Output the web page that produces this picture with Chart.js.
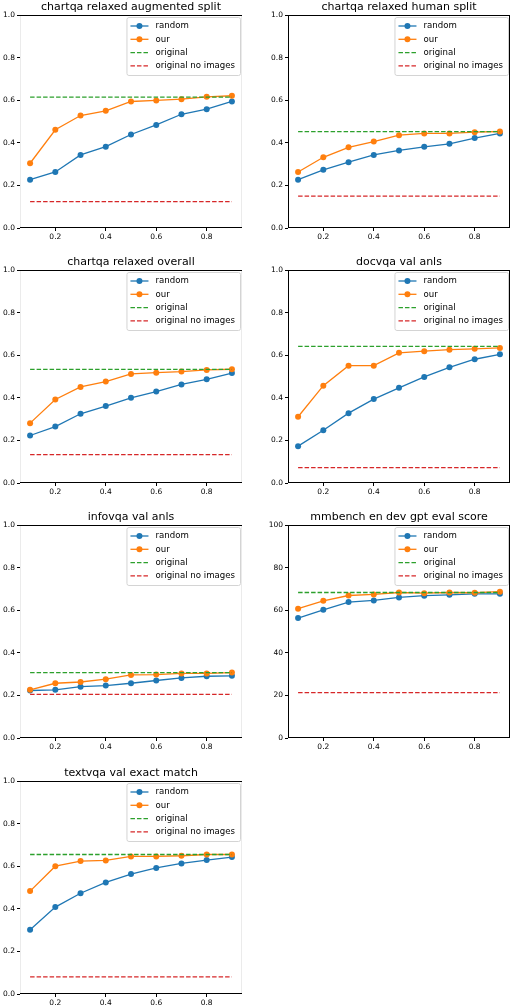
<!DOCTYPE html>
<html>
<head>
<meta charset="utf-8">
<script src="https://cdn.jsdelivr.net/npm/chart.js@4/dist/chart.umd.min.js"></script>
<style>
  html, body { margin: 0; padding: 0; background: #fff; }
  body { width: 512px; height: 1006px; position: relative; overflow: hidden; }
  .panel { position: absolute; width: 256px; height: 249px; }
</style>
</head>
<body>
<div id="figure"></div>
<script>
'use strict';

// x values (fraction of data kept)
let xs = [0.1, 0.2, 0.3, 0.4, 0.5, 0.6, 0.7, 0.8, 0.9];
let xTicks = [0.2, 0.4, 0.6, 0.8];

let titles = [
  'chartqa relaxed augmented split',
  'chartqa relaxed human split',
  'chartqa relaxed overall',
  'docvqa val anls',
  'infovqa val anls',
  'mmbench en dev gpt eval score',
  'textvqa val exact match'
];

let legendLabels = ['random', 'our', 'original', 'original no images'];

// series values, one row per subplot
let randomScores = [
  [0.227, 0.263, 0.343, 0.382, 0.439, 0.484, 0.534, 0.558, 0.594],
  [0.227, 0.273, 0.309, 0.343, 0.364, 0.381, 0.395, 0.422, 0.444],
  [0.223, 0.265, 0.325, 0.361, 0.400, 0.429, 0.463, 0.487, 0.516],
  [0.173, 0.248, 0.328, 0.394, 0.447, 0.498, 0.543, 0.581, 0.604],
  [0.223, 0.226, 0.241, 0.246, 0.257, 0.270, 0.282, 0.290, 0.292],
  [56.3, 60.2, 63.8, 64.6, 66.0, 66.8, 67.2, 67.7, 67.7],
  [0.302, 0.408, 0.473, 0.524, 0.563, 0.592, 0.613, 0.629, 0.643]
];

let ourScores = [
  [0.304, 0.461, 0.528, 0.550, 0.594, 0.599, 0.605, 0.616, 0.621],
  [0.263, 0.332, 0.379, 0.406, 0.436, 0.444, 0.444, 0.450, 0.453],
  [0.281, 0.392, 0.451, 0.476, 0.512, 0.518, 0.523, 0.531, 0.534],
  [0.311, 0.457, 0.551, 0.551, 0.611, 0.619, 0.626, 0.630, 0.634],
  [0.226, 0.257, 0.263, 0.276, 0.296, 0.298, 0.303, 0.303, 0.307],
  [60.7, 64.4, 66.9, 67.4, 68.3, 68.0, 68.3, 68.2, 68.7],
  [0.483, 0.600, 0.624, 0.627, 0.646, 0.646, 0.649, 0.655, 0.655]
];

let originalScores = [0.614, 0.452, 0.533, 0.641, 0.307, 68.3, 0.655];
let noImageScores = [0.124, 0.150, 0.133, 0.072, 0.205, 21.3, 0.080];

// y axis: top value of each subplot and its tick labels
let yMax = [1, 1, 1, 1, 1, 100, 1];
let yTickLabelsUnit = ['0.0', '0.2', '0.4', '0.6', '0.8', '1.0'];
let yTickLabelsPct = ['0', '20', '40', '60', '80', '100'];

let colors = ['#1f77b4', '#ff7f0e', '#2ca02c', '#d62728'];

// plot area tops for each row, in page pixels
let rowTops = [15, 270, 525, 781];

const FONT = "'DejaVu Sans', sans-serif";

// draws the frame, the title over the axes and a matplotlib style legend
let axesDecor = {
  id: 'axesDecor',
  afterDatasetsDraw(chart, args, opts) {
    let ctx = chart.ctx;
    let a = chart.chartArea;
    ctx.save();

    // spines
    ctx.lineWidth = 1;
    let side = opts.sideColor;
    ctx.strokeStyle = side;
    ctx.beginPath();
    ctx.moveTo(a.left + 0.5, a.top); ctx.lineTo(a.left + 0.5, a.bottom);
    ctx.moveTo(a.right - 0.5, a.top); ctx.lineTo(a.right - 0.5, a.bottom);
    ctx.stroke();
    ctx.strokeStyle = '#000';
    ctx.beginPath();
    ctx.moveTo(a.left, a.top + 0.5); ctx.lineTo(a.right, a.top + 0.5);
    ctx.moveTo(a.left, a.bottom - 0.5); ctx.lineTo(a.right, a.bottom - 0.5);
    ctx.stroke();

    // title
    ctx.fillStyle = '#000';
    ctx.font = '11px ' + FONT;
    ctx.textAlign = 'center';
    ctx.textBaseline = 'alphabetic';
    ctx.fillText(opts.title, (a.left + a.right) / 2, a.top - 5);

    // legend
    ctx.font = '8.6px ' + FONT;
    let maxW = 0;
    for (let i = 0; i < legendLabels.length; i++) {
      maxW = Math.max(maxW, ctx.measureText(legendLabels[i]).width);
    }
    let boxW = 29 + maxW + 5;
    let boxH = 58;
    let bx = a.right - 2 - boxW;
    let by = a.top + 2;
    ctx.fillStyle = 'rgba(255,255,255,0.8)';
    ctx.strokeStyle = '#d4d4d4';
    ctx.beginPath();
    ctx.roundRect(bx + 0.5, by + 0.5, boxW, boxH, 2);
    ctx.fill();
    ctx.stroke();

    for (let i = 0; i < legendLabels.length; i++) {
      let ry = by + 9 + i * 13.3;
      ctx.strokeStyle = colors[i];
      ctx.lineWidth = 1.3;
      ctx.setLineDash(i < 2 ? [] : [4.5, 2]);
      ctx.beginPath();
      ctx.moveTo(bx + 4, ry);
      ctx.lineTo(bx + 22, ry);
      ctx.stroke();
      ctx.setLineDash([]);
      if (i < 2) {
        ctx.fillStyle = colors[i];
        ctx.beginPath();
        ctx.arc(bx + 13, ry, 3, 0, Math.PI * 2);
        ctx.fill();
      }
      ctx.fillStyle = '#000';
      ctx.textAlign = 'left';
      ctx.textBaseline = 'middle';
      ctx.fillText(legendLabels[i], bx + 29, ry);
    }
    ctx.restore();
  }
};

function makePoints(values) {
  return xs.map((x, i) => ({ x: x, y: values[i] }));
}

function flatLine(value) {
  return [{ x: xs[0], y: value }, { x: xs[xs.length - 1], y: value }];
}

let figure = document.getElementById('figure');

for (let p = 0; p < titles.length; p++) {
  let col = p % 2;
  let row = Math.floor(p / 2);

  let div = document.createElement('div');
  div.className = 'panel';
  div.style.left = (col === 0 ? -10 : 258) + 'px';
  div.style.top = (rowTops[row] - 16) + 'px';
  let canvas = document.createElement('canvas');
  div.appendChild(canvas);
  figure.appendChild(div);

  let top = yMax[p];
  let tickLabels = top === 100 ? yTickLabelsPct : yTickLabelsUnit;

  new Chart(canvas.getContext('2d'), {
    type: 'line',
    data: {
      datasets: [{
        label: legendLabels[0],
        data: makePoints(randomScores[p]),
        borderColor: colors[0],
        backgroundColor: colors[0],
        borderWidth: 1.3,
        pointRadius: 3,
        pointBorderWidth: 0,
        order: 4
      }, {
        label: legendLabels[1],
        data: makePoints(ourScores[p]),
        borderColor: colors[1],
        backgroundColor: colors[1],
        borderWidth: 1.3,
        pointRadius: 3,
        pointBorderWidth: 0,
        order: 3
      }, {
        label: legendLabels[2],
        data: flatLine(originalScores[p]),
        borderColor: colors[2],
        borderWidth: 1.3,
        borderDash: [4.5, 2],
        pointRadius: 0,
        order: 2
      }, {
        label: legendLabels[3],
        data: flatLine(noImageScores[p]),
        borderColor: colors[3],
        borderWidth: 1.3,
        borderDash: [4.5, 2],
        pointRadius: 0,
        order: 1
      }]
    },
    options: {
      responsive: true,
      maintainAspectRatio: false,
      animation: false,
      events: [],
      layout: { padding: { top: 16, right: 4, left: 0, bottom: 0 } },
      plugins: {
        legend: { display: false },
        title: { display: false },
        tooltip: { enabled: false },
        axesDecor: { title: titles[p], sideColor: col === 0 ? '#ebebeb' : '#000' }
      },
      scales: {
        x: {
          type: 'linear',
          min: 0.06,
          max: 0.94,
          afterBuildTicks: (axis) => { axis.ticks = xTicks.map(v => ({ value: v })); },
          afterFit: (axis) => { axis.height = 20; },
          grid: { drawOnChartArea: false, color: '#000', tickLength: 3 },
          border: { display: false },
          ticks: {
            color: '#000',
            padding: 2,
            maxRotation: 0,
            font: { family: FONT, size: 7.5 },
            callback: (v) => v.toFixed(1)
          }
        },
        y: {
          type: 'linear',
          min: 0,
          max: top,
          afterBuildTicks: (axis) => {
            axis.ticks = tickLabels.map((t, i) => ({ value: top * i / (tickLabels.length - 1) }));
          },
          afterFit: (axis) => { axis.width = 30; },
          grid: { drawOnChartArea: false, color: '#000', tickLength: 3 },
          border: { display: false },
          ticks: {
            color: '#000',
            padding: 2,
            font: { family: FONT, size: 7.5 },
            callback: (v, i) => tickLabels[i]
          }
        }
      }
    },
    plugins: [axesDecor]
  });
}
</script>
</body>
</html>
